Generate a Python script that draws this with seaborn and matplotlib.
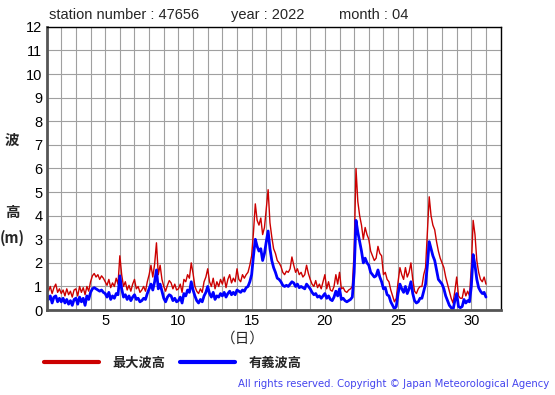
import matplotlib
matplotlib.use("Agg")
import matplotlib.pyplot as plt
import numpy as np
import pandas as pd
import seaborn as sns

# wave height (m), every 3 hours, 1 Apr 00h .. 1 May 00h (one row per day)
max_wave = [
    1.05, 0.8, 1.0, 0.7, 0.95, 1.1, 0.75, 0.9,
    0.7, 0.85, 0.6, 0.9, 0.65, 0.8, 0.55, 0.85,
    0.9, 0.6, 1.0, 0.75, 0.95, 0.65, 1.0, 0.8,
    1.2, 1.45, 1.55, 1.4, 1.5, 1.3, 1.45, 1.35,
    1.2, 1.05, 1.3, 0.95, 1.15, 1.0, 1.35, 1.1,
    2.3, 1.5, 1.0, 1.2, 0.85, 1.05, 0.8, 1.1,
    1.3, 0.9, 1.0, 0.75, 0.85, 1.0, 0.8, 1.2,
    1.5, 1.9, 1.4, 1.95, 2.85, 1.5, 1.9, 1.3,
    1.0, 0.8, 1.05, 1.25, 1.15, 0.9, 1.1, 0.85,
    0.9, 1.1, 0.75, 1.3, 1.2, 1.5, 1.35, 2.0,
    1.55, 1.0, 0.8, 0.7, 0.9, 0.75, 1.2, 1.4,
    1.75, 1.2, 1.0, 1.35, 0.9, 1.2, 1.0, 1.3,
    1.1, 1.4, 0.95, 1.3, 1.5, 1.15, 1.35, 1.2,
    1.75, 1.3, 1.2, 1.5, 1.35, 1.5, 1.6, 1.9,
    2.3, 3.3, 4.5, 3.8, 3.6, 3.9, 3.2, 3.5,
    4.3, 5.1, 3.7, 3.1, 2.6, 2.4, 2.1, 2.0,
    1.85, 1.6, 1.5, 1.65, 1.6, 1.75, 2.25, 1.9,
    1.6, 1.75, 1.5, 1.6, 1.4, 1.5, 1.9, 1.55,
    1.3, 1.1, 1.0, 1.25, 0.95, 1.1, 0.9, 1.2,
    1.5, 0.9, 1.2, 0.85, 0.8, 1.0, 1.5, 1.1,
    1.6, 0.9, 0.95, 0.8, 0.75, 0.85, 0.9, 1.0,
    2.5, 6.0, 4.6, 4.0, 3.6, 3.0, 3.5, 3.2,
    3.0, 2.5, 2.3, 2.1, 2.2, 2.7, 2.4, 2.3,
    1.5, 1.6, 1.3, 1.2, 0.85, 0.6, 0.35, 0.5,
    1.2, 1.8, 1.5, 1.3, 1.8, 1.4, 1.6, 2.0,
    1.3, 0.8, 0.7, 0.9, 1.0, 1.0, 1.5, 1.8,
    3.3, 4.8, 4.0, 3.6, 3.4, 2.9, 2.5, 2.2,
    2.0, 1.8, 1.4, 1.1, 0.8, 0.5, 0.3, 0.8,
    1.4, 0.6, 0.5, 0.5, 0.9, 0.6, 0.8, 0.6,
    1.8, 3.8, 3.2, 2.1, 1.6, 1.3, 1.2, 1.4,
    1.1,
]
sig_wave = [
    0.65, 0.45, 0.6, 0.3, 0.55, 0.6, 0.35, 0.5,
    0.35, 0.5, 0.3, 0.45, 0.25, 0.4, 0.2, 0.45,
    0.5, 0.25, 0.55, 0.35, 0.5, 0.2, 0.6, 0.45,
    0.75, 0.9, 0.95, 0.9, 0.85, 0.8, 0.85, 0.75,
    0.7, 0.55, 0.75, 0.45, 0.6, 0.5, 0.7, 0.65,
    1.45, 0.9, 0.55, 0.65, 0.45, 0.6, 0.4, 0.55,
    0.65, 0.45, 0.5, 0.35, 0.4, 0.5, 0.45, 0.7,
    0.9, 1.1, 0.85, 1.2, 1.7, 0.9, 1.1, 0.8,
    0.5, 0.35, 0.55, 0.65, 0.6, 0.4, 0.5, 0.35,
    0.4, 0.55, 0.3, 0.7, 0.6, 0.85, 0.75, 1.2,
    0.85, 0.6, 0.4, 0.3, 0.45, 0.35, 0.6, 0.75,
    1.0, 0.7, 0.55, 0.75, 0.45, 0.6, 0.55, 0.7,
    0.6, 0.75, 0.55, 0.7, 0.8, 0.65, 0.75, 0.65,
    0.85, 0.8, 0.75, 0.85, 0.8, 0.95, 1.0, 1.2,
    1.5, 2.3, 3.0, 2.7, 2.5, 2.6, 2.1, 2.4,
    2.9, 3.35, 2.6, 2.1, 1.8, 1.6, 1.35, 1.3,
    1.2, 1.05, 1.0, 1.05, 1.0, 1.1, 1.2, 1.15,
    1.0, 1.1, 0.95, 1.0, 0.95, 0.9, 1.1, 1.0,
    0.9, 0.75, 0.65, 0.7, 0.55, 0.6, 0.5, 0.6,
    0.7, 0.5, 0.6, 0.45, 0.4, 0.55, 0.8, 0.6,
    0.9, 0.45, 0.5, 0.4, 0.35, 0.4, 0.45, 0.55,
    1.6, 3.8, 3.3, 2.9, 2.5, 2.0, 2.2, 2.0,
    1.9, 1.6, 1.5, 1.4, 1.45, 1.7, 1.4, 1.2,
    0.9, 0.95, 0.65, 0.6, 0.35, 0.2, 0.05, 0.15,
    0.7, 1.1, 0.9, 0.75, 1.0, 0.7, 0.9, 1.2,
    0.7, 0.4, 0.3, 0.35, 0.5, 0.5, 0.8, 1.1,
    1.9, 2.9, 2.6, 2.3, 2.1, 1.7, 1.3, 1.2,
    1.1, 0.9, 0.6, 0.4, 0.2, 0.1, 0.0, 0.4,
    0.7, 0.15, 0.1, 0.15, 0.45, 0.3, 0.4, 0.35,
    1.0, 2.35, 1.9, 1.3, 0.95, 0.8, 0.7, 0.75,
    0.55,
]
x_labels = [5, 10, 15, 20, 25, 30]

df = pd.DataFrame({
    "day": 1 + np.arange(len(max_wave)) / 8,
    "最大波高": max_wave,
    "有義波高": sig_wave,
})

sns.set_style("white")
plt.rcParams["font.family"] = ["Liberation Sans", "Noto Sans CJK JP", "DejaVu Sans"]
jp = ["Noto Sans CJK JP", "DejaVu Sans"]

fig = plt.figure(figsize=(5.55, 3.95), dpi=100)
ax = fig.add_axes([0.084, 0.215, 0.818, 0.717])

sns.lineplot(data=df, x="day", y="最大波高", color="#cc0000", lw=1.0, ax=ax, label="最大波高")
sns.lineplot(data=df, x="day", y="有義波高", color="#0000ff", lw=2.0, ax=ax, label="有義波高")

ax.set_xlim(1, 32)
ax.set_ylim(0, 12)
ax.set_xticks(np.arange(1, 33), minor=True)
ax.set_xticks(x_labels)
ax.set_yticks(np.arange(0, 13))
ax.grid(True, which="both", color="#a0a0a0", lw=0.8)
ax.tick_params(axis="both", which="both", length=0, labelsize=10.5, pad=3, colors="black")
ax.set_xlabel("")
ax.set_ylabel("")
for s in ["top", "right"]:
    ax.spines[s].set_color("black")
    ax.spines[s].set_linewidth(1.0)
for s in ["left", "bottom"]:
    ax.spines[s].set_color("#555555")
    ax.spines[s].set_linewidth(2.0)

handles, labels = ax.get_legend_handles_labels()
ax.get_legend().remove()
leg = fig.legend(handles, labels, loc="center left", bbox_to_anchor=(0.079, 0.081),
                 ncol=2, frameon=False, handlelength=4.2, handletextpad=1.0,
                 columnspacing=1.1, borderpad=0, borderaxespad=0,
                 prop={"family": jp, "weight": "bold", "size": 9.5})
for h in leg.get_lines():
    h.set_linewidth(3)

fig.text(0.088, 0.962, "station number : 47656", fontsize=10.5, va="center")
fig.text(0.416, 0.962, "year : 2022", fontsize=10.5, va="center")
fig.text(0.611, 0.962, "month : 04", fontsize=10.5, va="center")

fig.text(0.022, 0.645, "波", family=jp, weight="bold", fontsize=10.5, ha="center", va="center")
fig.text(0.022, 0.463, "高", family=jp, weight="bold", fontsize=10.5, ha="center", va="center")
fig.text(0.022, 0.397, "(m)", family=jp, weight="bold", fontsize=10.5, ha="center", va="center")
fig.text(0.438, 0.144, "（日）", family=jp, fontsize=10.5, ha="center", va="center")

fig.text(0.99, 0.028, "All rights reserved. Copyright © Japan Meteorological Agency",
         fontsize=7.3, color="#4444ee", ha="right", va="center", family="DejaVu Sans")

fig.savefig("out.png", dpi=100)
